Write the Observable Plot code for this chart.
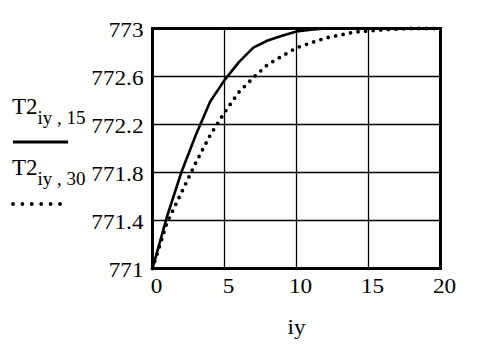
<!DOCTYPE html>
<html><head><meta charset="utf-8">
<script src="https://cdn.jsdelivr.net/npm/d3@7"></script>
<script src="https://cdn.jsdelivr.net/npm/@observablehq/plot@0.6"></script>
<style>body{margin:0;background:#fff}</style>
</head><body><div id="chart"></div>
<script>
const iy  = [0,1,2,3,4,5,6,7,8,9,10,11,12,13,14,15,16,17,18,19,20];
const t15 = [771.0,771.43,771.8,772.11,772.39,772.57,772.72,772.84,772.9,772.94,772.975,772.99,773,773,773,773,773,773,773,773,773];
const t30 = [771.0,771.38,771.63,771.88,772.11,772.3,772.47,772.59,772.7,772.77,772.84,772.88,772.92,772.945,772.97,772.98,772.99,772.995,773,773,773];
const xTicks = [0,5,10,15,20];
const yTicks = [771,771.4,771.8,772.2,772.6,773];
const yTickLabels = ["771","771.4","771.8","772.2","772.6","773"];
const legendNames = ["T2", "T2"];
const legendSubs = ["iy , 15", "iy , 30"];
const xLabel = "iy";
const FONT = "Liberation Serif";

const d15 = iy.map((x,i)=>({x, y:t15[i]}));
const d30 = iy.map((x,i)=>({x, y:t30[i]}));

const chart = Plot.plot({
  width:479, height:349, marginLeft:152, marginRight:39, marginTop:28, marginBottom:81,
  style:{fontFamily:FONT, fontSize:"20px", background:"white", color:"black"},
  x:{domain:[0,20], label:null},
  y:{domain:[771,773], label:null},
  marks:[
    Plot.gridX(xTicks,{stroke:"black", strokeOpacity:1, strokeWidth:1.3}),
    Plot.gridY(yTicks,{stroke:"black", strokeOpacity:1, strokeWidth:1.3}),
    Plot.axisX(xTicks,{tickSize:0, tickPadding:10, dx:4, fill:"black"}),
    Plot.axisY(yTicks,{tickSize:0, tickPadding:9, dy:2, tickFormat:(d,i)=>yTickLabels[i], fill:"black"}),
    Plot.line(d15,{x:"x", y:"y", stroke:"black", strokeWidth:2.6}),
    Plot.line(d30,{x:"x", y:"y", stroke:"black", strokeWidth:3.8, strokeDasharray:"0,7.6", strokeLinecap:"round"}),
    Plot.frame({stroke:"black", strokeWidth:3}),
    Plot.text([xLabel],{x:10, y:771, dy:59, fill:"black", textAnchor:"middle"})
  ]
});
document.getElementById("chart").append(chart);

const svg = d3.select(chart);
svg.attr("font-family", FONT).attr("font-size", 20);
svg.selectAll("g").attr("font-size", null).attr("font-family", null);
svg.selectAll("text").style("font-family", FONT).style("font-size", "20px");
// widen the glyphs a little, as in the reference rendering
svg.selectAll("text").each(function(){
  const w = this.getComputedTextLength();
  if (w > 0) { this.setAttribute("textLength", (w*1.16).toFixed(1)); this.setAttribute("lengthAdjust","spacingAndGlyphs"); }
});

const leg = [{y:114, ly:142, dash:null},{y:175, ly:204, dash:"0,9.4"}];
leg.forEach((g,i)=>{
  const t = svg.append("text").attr("x",12).attr("y",g.y).attr("text-anchor","start")
    .style("font-family",FONT).style("font-size","23px").attr("fill","black");
  t.append("tspan").text(legendNames[i]);
  t.append("tspan").style("font-size","19px").attr("dy",10).text(legendSubs[i]);
  const l = svg.append("line").attr("x1",13).attr("x2",g.dash?60:68).attr("y1",g.ly).attr("y2",g.ly)
    .attr("stroke","black").attr("stroke-width",g.dash?3.8:3);
  if (g.dash) l.attr("stroke-dasharray",g.dash).attr("stroke-linecap","round");
});
</script>
</body></html>
